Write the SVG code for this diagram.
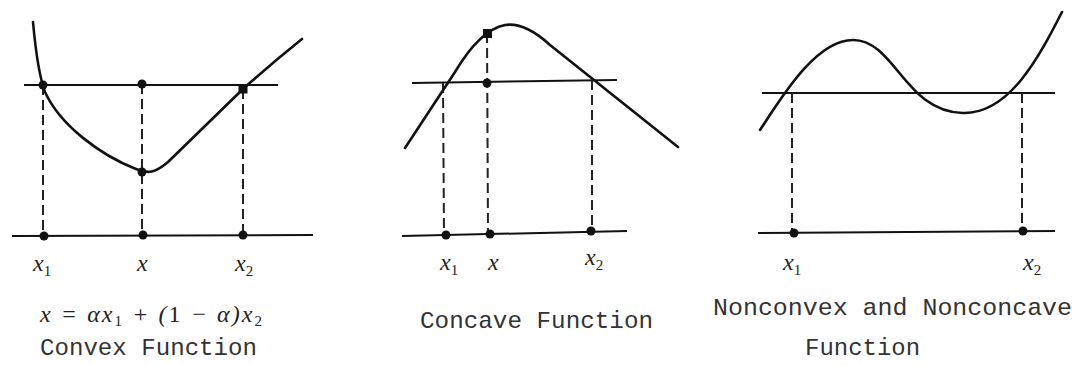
<svg xmlns="http://www.w3.org/2000/svg" width="1072" height="365" viewBox="0 0 1072 365">
<defs>
<style>
.ax{stroke:#111;stroke-width:2;fill:none}
.dash{stroke:#222;stroke-width:2;fill:none;stroke-dasharray:10 5}
.curve{stroke:#111;stroke-width:2.6;fill:none;stroke-linecap:round;stroke-linejoin:round}
.dot{fill:#111}
.var{font-family:"Liberation Serif","DejaVu Serif",serif;font-style:italic;font-size:24px;fill:#222}
.sub{font-size:15px;font-style:normal}
.title{font-family:"Liberation Mono","DejaVu Sans Mono",monospace;font-size:24px;fill:#333}
</style>
</defs>
<rect width="1072" height="365" fill="#fff"/>

<g id="convex">
  <g id="convex-connectors">
    <line class="ax" x1="24" y1="85" x2="278" y2="85"/>
    <line class="ax" x1="12" y1="236" x2="313" y2="235"/>
    <line class="dash" x1="43" y1="85" x2="43" y2="236"/>
    <line class="dash" x1="142" y1="84" x2="142" y2="235"/>
    <line class="dash" x1="243" y1="89" x2="243" y2="235"/>
    <path class="curve" d="M33,22 C36,55 39,76 45,92 C60,125 100,155 136,169 C148,174 155,173 168,162 L243,89 C262,72 282,55 302,39"/>
  </g>
  <circle class="dot" cx="43" cy="85" r="4.5"/>
  <circle class="dot" cx="142" cy="84" r="4.5"/>
  <rect class="dot" x="238.5" y="84.5" width="9" height="9"/>
  <circle class="dot" cx="142" cy="172" r="4.5"/>
  <circle class="dot" cx="44" cy="236" r="4.5"/>
  <circle class="dot" cx="143" cy="235" r="4.5"/>
  <circle class="dot" cx="243" cy="235" r="4.5"/>
  <text class="var" x="33" y="271">x<tspan class="sub" dy="5">1</tspan></text>
  <text class="var" x="137" y="271">x</text>
  <text class="var" x="235" y="271">x<tspan class="sub" dy="5">2</tspan></text>
  <text class="var" x="40" y="322" textLength="222" lengthAdjust="spacing">x = αx<tspan class="sub" dy="4">1</tspan><tspan dy="-4"> + (</tspan><tspan font-style="normal">1</tspan> − α)x<tspan class="sub" dy="4">2</tspan></text>
  <text class="title" x="40" y="355" textLength="217" lengthAdjust="spacingAndGlyphs">Convex Function</text>
</g>

<g id="concave">
  <g id="concave-connectors">
    <line class="ax" x1="412" y1="83" x2="617" y2="80"/>
    <line class="ax" x1="402" y1="236" x2="627" y2="231"/>
    <line class="dash" x1="443" y1="83" x2="444" y2="235"/>
    <line class="dash" x1="487" y1="33" x2="488" y2="234"/>
    <line class="dash" x1="592" y1="80" x2="592" y2="231"/>
    <path class="curve" d="M405,148 L455,72 Q480,30 505,25 Q525,22 550,45 L678,147"/>
  </g>
  <circle class="dot" cx="487" cy="83" r="4.5"/>
  <rect class="dot" x="483" y="29" width="9" height="9"/>
  <circle class="dot" cx="446" cy="235" r="4.5"/>
  <circle class="dot" cx="490" cy="234" r="4.5"/>
  <circle class="dot" cx="591" cy="231" r="4.5"/>
  <text class="var" x="440" y="270">x<tspan class="sub" dy="5">1</tspan></text>
  <text class="var" x="488" y="270">x</text>
  <text class="var" x="585" y="265">x<tspan class="sub" dy="5">2</tspan></text>
  <text class="title" x="420" y="328" textLength="233" lengthAdjust="spacingAndGlyphs">Concave Function</text>
</g>

<g id="nonconvex">
  <g id="nonconvex-connectors">
    <line class="ax" x1="762" y1="93" x2="1055" y2="93"/>
    <line class="ax" x1="758" y1="233" x2="1055" y2="231"/>
    <line class="dash" x1="792" y1="93" x2="792" y2="233"/>
    <line class="dash" x1="1022" y1="93" x2="1022" y2="231"/>
    <path class="curve" d="M760,130 C780,100 815,40 853,40 C895,40 905,112 963,113 C1010,114 1040,55 1062,12"/>
  </g>
  <circle class="dot" cx="794" cy="233" r="4.5"/>
  <circle class="dot" cx="1023" cy="231" r="4.5"/>
  <text class="var" x="783" y="270">x<tspan class="sub" dy="5">1</tspan></text>
  <text class="var" x="1023" y="270">x<tspan class="sub" dy="5">2</tspan></text>
  <text class="title" x="713" y="315" textLength="359" lengthAdjust="spacingAndGlyphs">Nonconvex and Nonconcave</text>
  <text class="title" x="805" y="355" textLength="115" lengthAdjust="spacingAndGlyphs">Function</text>
</g>
</svg>
